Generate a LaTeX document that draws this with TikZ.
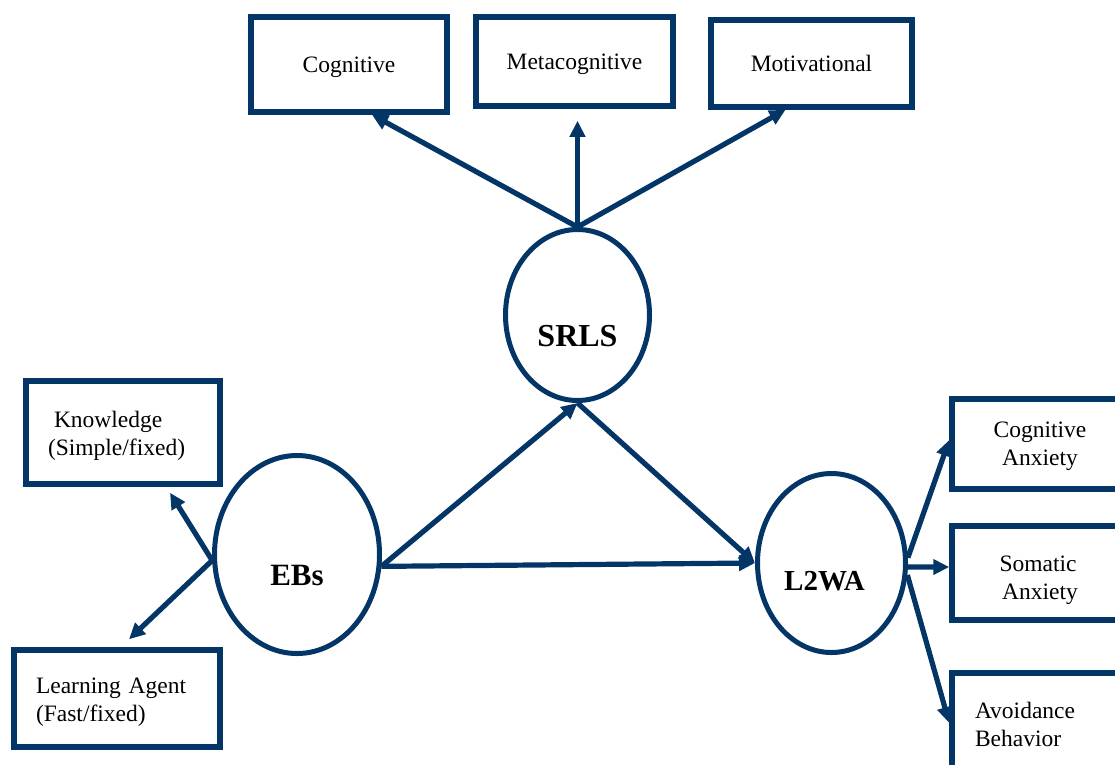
\documentclass[tikz,border=0pt]{standalone}
\usepackage{fontspec}
\setmainfont{Liberation Serif}
\usetikzlibrary{arrows.meta,shapes.geometric,calc}
\definecolor{navy}{RGB}{3,53,102}

\begin{document}
\begin{tikzpicture}[x=1pt,y=-1pt,
  box/.style={draw=navy, line width=5.5pt, rectangle, inner sep=0pt, text depth=-2pt,
              font=\fontsize{23.5}{28}\selectfont, align=center},
  leftbox/.style={box, align=left, inner xsep=22pt, text depth=26pt},
  latent/.style={draw=navy, line width=5pt, ellipse, inner sep=0pt},
  latentlabel/.style={font=\fontsize{#1}{#1}\selectfont\bfseries},
  link/.style={draw=navy, line width=5.2pt, -{Triangle[length=16pt,width=15pt]}},
]
\useasboundingbox (0,0) rectangle (1115,764);

% latent constructs
\node[latent, minimum width=144pt, minimum height=171pt,
      label={[latentlabel=32, name=srlst, yshift=-21pt]center:SRLS}] (srls) at (577.5,315) {};
\node[latent, minimum width=165pt, minimum height=198pt,
      label={[latentlabel=31, name=ebst, yshift=-21pt]center:EBs}] (ebs) at (297,554.5) {};
\node[latent, minimum width=148pt, minimum height=179pt,
      label={[latentlabel=29, name=l2wat, xshift=-7pt, yshift=-18pt]center:L2WA}] (l2wa) at (831.5,563) {};

% indicators of SRLS
\node[box, minimum width=196pt, minimum height=95pt] (cog) at (349,64.5) {Cognitive};
\node[box, minimum width=197pt, minimum height=89pt] (meta) at (574.5,61.5) {Metacognitive};
\node[box, minimum width=201pt, minimum height=87pt] (motiv) at (811.5,63.5) {Motivational};

% indicators of EBs
\node[leftbox, text width=150pt, minimum width=194pt, minimum height=103pt] (know) at (123,432.5)
  {\hspace*{6pt}Knowledge\\(Simple/fixed)};
\node[leftbox, text width=162pt, minimum width=206pt, minimum height=97pt] (learn) at (117,698.5)
  {Learning Agent\\(Fast/fixed)};

% indicators of L2WA
\node[box, minimum width=176pt, minimum height=90pt] (canx) at (1040,444) {Cognitive\\Anxiety};
\node[box, minimum width=172pt, minimum height=94pt] (sanx) at (1038,573)
  {\rule{0pt}{24pt}Somatic\\\hspace*{4pt}Anxiety};
\node[leftbox, inner xsep=23pt, text width=150pt, minimum width=196pt, minimum height=100pt] (avoid) at (1050,723)
  {Avoidance\\Behavior};

% structural paths
\draw[link] (ebs.-8) -- (srls.south);
\draw[link] (srls.south) -- (l2wa.west);
\draw[link] (ebs.-8) -- (l2wa.west);

% measurement paths
\draw[link] (srls.north) -- ([xshift=23pt]cog.south);
\draw[link] (srls.north) -- ([yshift=-12pt]srls.north |- meta.south);
\draw[link] (srls.north) -- ([xshift=-26pt]motiv.south);

\draw[link] (ebs.184) -- ([xshift=47pt,yshift=-6pt]know.south);
\draw[link] (ebs.184) -- ([xshift=12pt,yshift=8pt]learn.north);

\draw[link] (l2wa.4) -- ([yshift=4pt]canx.west);
\draw[link] (l2wa.-3) -- ([yshift=6pt]sanx.west);
\draw[link] (l2wa.-9) -- (avoid.west);
\end{tikzpicture}
\end{document}
